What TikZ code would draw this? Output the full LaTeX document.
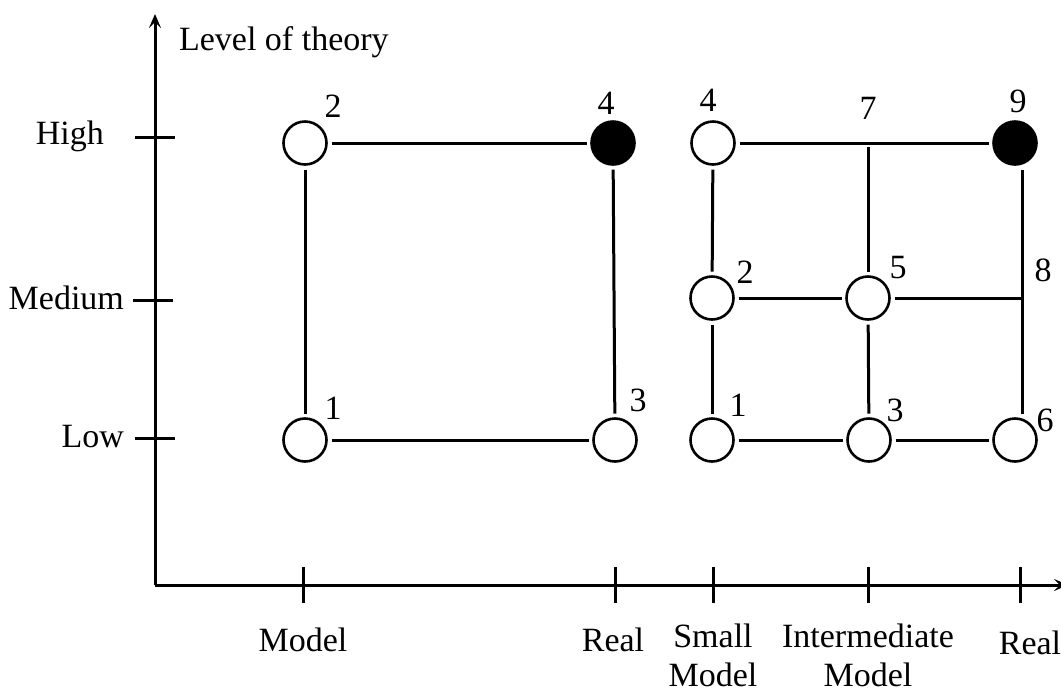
\documentclass[tikz,border=0pt]{standalone}
\usepackage{fontspec}
\setmainfont{Liberation Serif}
\usetikzlibrary{arrows.meta}

\begin{document}
\begin{tikzpicture}[x=0.5pt, y=-0.5pt,
  font=\fontsize{17}{19.5}\selectfont,
  pt/.style={circle, draw, line width=1.3pt, minimum size=21.5pt, inner sep=0pt, outer sep=2.5pt},
  ptfull/.style={pt, fill=black},
  lnk/.style={line width=1.5pt},
  axis/.style={line width=1.5pt, -{Stealth[length=7pt, width=6pt, inset=3pt]}},
  tick/.style={line width=1.5pt},
  num/.style={inner sep=1pt}
]
\useasboundingbox (0,0) rectangle (1061,693);

% axes
\coordinate (O) at (155,585);
\coordinate (ytop) at (155,14);
\coordinate (xend) at (1068,585);
\draw[axis] (O) -- (ytop);
\draw[axis] (O) -- (xend);
\node[anchor=west] (ylab) at (172,42) {Level of theory};

% y ticks
\coordinate (hiA) at (135,137); \coordinate (hiB) at (175,137);
\coordinate (meA) at (133,300); \coordinate (meB) at (173,300);
\coordinate (loA) at (135,438); \coordinate (loB) at (175,438);
\draw[tick] (hiA) -- (hiB);
\draw[tick] (meA) -- (meB);
\draw[tick] (loA) -- (loB);
\node[anchor=east] (hi) at (111,136) {High};
\node[anchor=east] (me) at (131,298) {Medium};
\node[anchor=east] (lo) at (131,437) {Low};

% x ticks
\foreach \xx [count=\i] in {303,615,713,868,1020}{
  \coordinate (tA\i) at (\xx,567);
  \coordinate (tB\i) at (\xx,603);
  \draw[tick] (tA\i) -- (tB\i);
}
\node (xm) at (303,640) {Model};
\node (xr) at (613,640) {Real};
\node[align=center] (xs) at (713,655) {Small\\Model};
\node[align=center] (xi) at (868,655) {Intermediate\\Model};
\node (xr2) at (1030,643) {Real};

% two-layer scheme
\node[pt] (a1) at (305,440) {};
\node[pt] (a2) at (305,143) {};
\node[pt] (a3) at (615,440) {};
\node[ptfull] (a4) at (613,143) {};
\node[num] at (333,408) {1};
\node[num] at (333,106) {2};
\node[num] at (638,400) {3};
\node[num] at (606,103) {4};
\draw[lnk] (a1) -- (a2);
\draw[lnk] (a2) -- (a4);
\draw[lnk] (a1) -- (a3);
\draw[lnk] (a3) -- (a4);

% three-layer scheme
\node[pt] (b1) at (712,440) {};
\node[pt] (b2) at (712,298) {};
\node[pt] (b3) at (869,440) {};
\node[pt] (b4) at (713,143) {};
\node[pt] (b5) at (868,298) {};
\node[pt] (b6) at (1015,440) {};
\coordinate (b7) at (868,147);
\coordinate (b8) at (1022,298);
\node[ptfull] (b9) at (1015,143) {};
\node[num] at (738,405) {1};
\node[num] at (745,272) {2};
\node[num] at (895,410) {3};
\node[num] at (708,100) {4};
\node[num] at (898,268) {5};
\node[num] at (1045,420) {6};
\node[num] at (868,108) {7};
\node[num] at (1043,270) {8};
\node[num] at (1018,101) {9};
\draw[lnk] (b1) -- (b2);
\draw[lnk] (b2) -- (b4);
\draw[lnk] (b4) -- (b9);
\draw[lnk] (b2) -- (b5);
\draw[lnk] (b5) -- (b8);
\draw[lnk] (b1) -- (b3);
\draw[lnk] (b3) -- (b6);
\draw[lnk] (b3) -- (b5);
\draw[lnk] (b5) -- (b7);
\draw[lnk] (b9.south -| b8) -- (b8);
\draw[lnk] (b8) -- (b8 |- b6.north);
\end{tikzpicture}
\end{document}
